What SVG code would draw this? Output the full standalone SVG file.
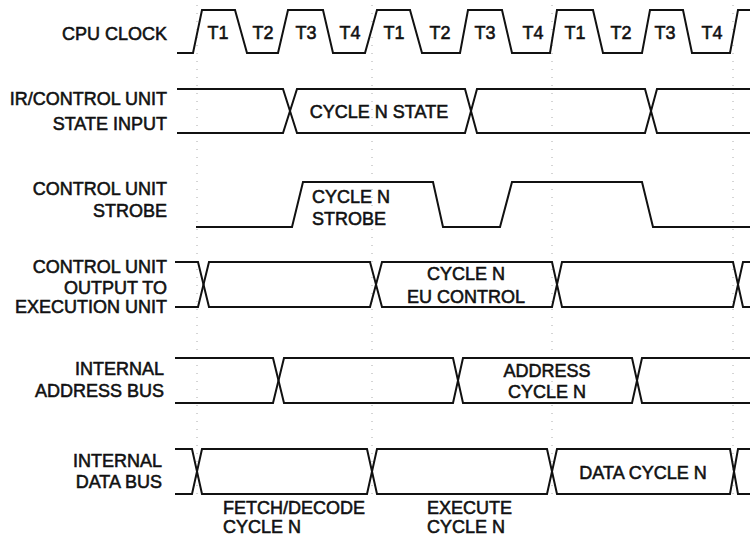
<svg xmlns="http://www.w3.org/2000/svg" width="750" height="537" viewBox="0 0 750 537">
<style>
.lbl{font-family:"Liberation Sans",Arial,sans-serif;font-size:18px;fill:#111;text-anchor:end;stroke:#111;stroke-width:0.55px}
.in{font-family:"Liberation Sans",Arial,sans-serif;font-size:18px;fill:#111;stroke:#111;stroke-width:0.55px}
.mid{text-anchor:middle}
.wave{fill:none;stroke:#111;stroke-width:2;stroke-linejoin:miter}
.guide{fill:none;stroke:#aaa;stroke-width:1;stroke-dasharray:1 7}
</style>
<rect width="750" height="537" fill="#fff"/>
<g id="guides">
<line class="guide" x1="197" y1="5" x2="197" y2="500"/>
<line class="guide" x1="372" y1="5" x2="372" y2="500"/>
<line class="guide" x1="552" y1="5" x2="552" y2="500"/>
<line class="guide" x1="733" y1="5" x2="733" y2="500"/>
</g>
<g id="cpu-clock">
<text class="lbl" x="167" y="40">CPU CLOCK</text>
<path class="wave" d="M177,53 H193 L202,10 H235 L247,53 H278 L288,10 H323 L333,53 H365 L377,10 H410 L422,53 H460 L468,10 H502 L512,53 H550 L557,10 H593 L603,53 H642 L650,10 H683 L692,53 H730 L738,10 H750"/>
<text class="in mid" x="218" y="39">T1</text>
<text class="in mid" x="263" y="39">T2</text>
<text class="in mid" x="306" y="39">T3</text>
<text class="in mid" x="350" y="39">T4</text>
<text class="in mid" x="394" y="39">T1</text>
<text class="in mid" x="440" y="39">T2</text>
<text class="in mid" x="485" y="39">T3</text>
<text class="in mid" x="533" y="39">T4</text>
<text class="in mid" x="575" y="39">T1</text>
<text class="in mid" x="621" y="39">T2</text>
<text class="in mid" x="665" y="39">T3</text>
<text class="in mid" x="712" y="39">T4</text>
</g>
<g id="ir-state">
<text class="lbl" x="167" y="105">IR/CONTROL UNIT</text>
<text class="lbl" x="167" y="130">STATE INPUT</text>
<path class="wave" d="M177,89 H283 L297,133 H465 L477,89 H645 L657,133 H750"/>
<path class="wave" d="M177,133 H283 L297,89 H465 L477,133 H645 L657,89 H750"/>
<text class="in mid" x="379" y="118">CYCLE N STATE</text>
</g>
<g id="cu-strobe">
<text class="lbl" x="167" y="195">CONTROL UNIT</text>
<text class="lbl" x="167" y="217">STROBE</text>
<path class="wave" d="M196,227 H292 L303,182 H433 L443,227 H500 L512,182 H642 L653,227 H750"/>
<text class="in" x="312" y="203">CYCLE N</text>
<text class="in" x="312" y="225">STROBE</text>
</g>
<g id="cu-output">
<text class="lbl" x="167" y="273">CONTROL UNIT</text>
<text class="lbl" x="167" y="294">OUTPUT TO</text>
<text class="lbl" x="167" y="313">EXECUTION UNIT</text>
<path class="wave" d="M175,262 H198 L209,307 H370 L382,262 H552 L562,307 H733 L743,262 H750"/>
<path class="wave" d="M175,307 H198 L209,262 H370 L382,307 H552 L562,262 H733 L743,307 H750"/>
<text class="in mid" x="466" y="280">CYCLE N</text>
<text class="in mid" x="466" y="303">EU CONTROL</text>
</g>
<g id="address-bus">
<text class="lbl" x="164" y="375">INTERNAL</text>
<text class="lbl" x="164" y="397">ADDRESS BUS</text>
<path class="wave" d="M175,358 H273 L284,403 H453 L463,358 H632 L642,403 H750"/>
<path class="wave" d="M175,403 H273 L284,358 H453 L463,403 H632 L642,358 H750"/>
<text class="in mid" x="547" y="377">ADDRESS</text>
<text class="in mid" x="547" y="398">CYCLE N</text>
</g>
<g id="data-bus">
<text class="lbl" x="162" y="467">INTERNAL</text>
<text class="lbl" x="162" y="488">DATA BUS</text>
<path class="wave" d="M175,449 H192 L202,494 H367 L377,449 H547 L557,494 H730 L738,449 H750"/>
<path class="wave" d="M175,494 H192 L202,449 H367 L377,494 H547 L557,449 H730 L738,494 H750"/>
<text class="in mid" x="643" y="479">DATA CYCLE N</text>
</g>
<g id="phase-labels">
<text class="in" x="223" y="514">FETCH/DECODE</text>
<text class="in" x="223" y="533">CYCLE N</text>
<text class="in" x="427" y="514">EXECUTE</text>
<text class="in" x="427" y="533">CYCLE N</text>
</g>
</svg>
